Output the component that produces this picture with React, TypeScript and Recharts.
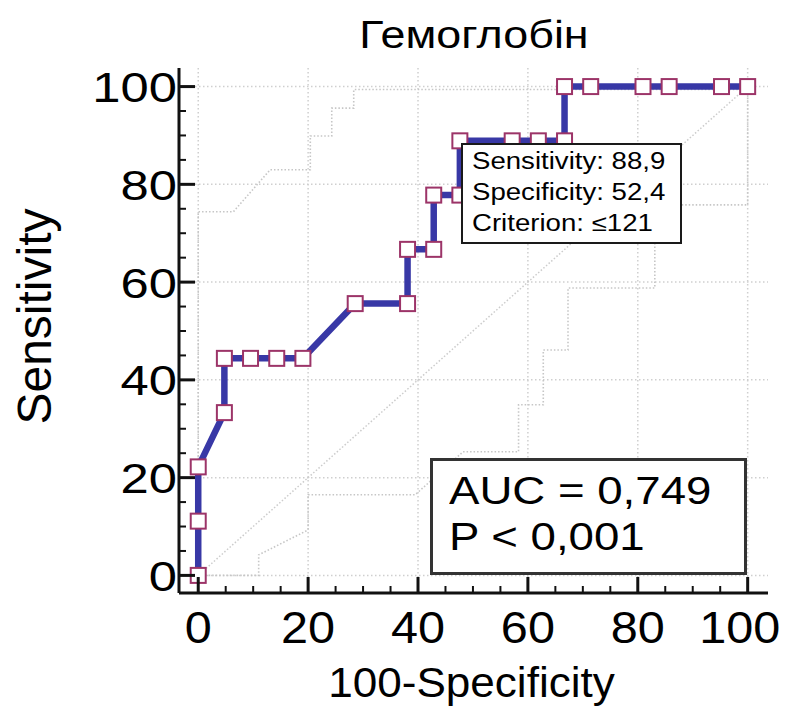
import React from "react";
import { CartesianGrid, ComposedChart, Line, ReferenceLine, XAxis, YAxis } from "recharts";

// ROC curve points: 100-Specificity (x) and Sensitivity (y)
const rocFpr = [0, 0, 0, 4.76, 4.76, 9.52, 14.29, 19.05, 28.57, 38.1, 38.1, 42.86, 42.86, 47.62, 47.62, 57.14, 61.9, 66.67, 66.67, 71.43, 80.95, 85.71, 95.24, 100];
const rocSens = [0, 11.1, 22.2, 33.3, 44.4, 44.4, 44.4, 44.4, 55.6, 55.6, 66.7, 66.7, 77.8, 77.8, 88.9, 88.9, 88.9, 88.9, 100, 100, 100, 100, 100, 100];

// 95% confidence bounds (dotted)
const upperX = [0, 0, 6.4, 13.1, 20.4, 20.4, 24.3, 24.3, 28.3, 28.3, 100];
const upperY = [0, 74.4, 74.4, 83, 83, 89.9, 89.9, 95.6, 95.6, 99.4, 99.4];
const lowerX = [0, 11, 11, 20, 20, 39.5, 48.2, 58.3, 58.3, 62.8, 62.8, 67.3, 67.3, 83.1, 83.1, 100, 100];
const lowerY = [0, 0, 4.2, 9.3, 16.5, 16.5, 25.3, 25.3, 34.9, 34.9, 46.1, 46.1, 58.8, 58.8, 75.8, 75.8, 99.4];

const axisTicks = [0, 5, 10, 15, 20, 25, 30, 35, 40, 45, 50, 55, 60, 65, 70, 75, 80, 85, 90, 95, 100];
const labelTicks = [0, 20, 40, 60, 80, 100];

const FONT = "'Liberation Sans', Arial, sans-serif";
const AXIS = "#111";
const GRID = "#cfcfcf";
const BAND = "#c6c6c6";
// the original text is set a little wider than Arial
const WIDE = 1.18;

const toPoints = (xs: number[], ys: number[]) => xs.map((x, i) => ({ x, y: ys[i] }));

const rocData = toPoints(rocFpr, rocSens);
const upperData = toPoints(upperX, upperY);
const lowerData = toPoints(lowerX, lowerY);

function WideText({ x, y, anchor, size, children, dy, scale = WIDE }: any) {
  return (
    <g transform={`translate(${x},${y}) scale(${scale},1)`}>
      <text x={0} y={0} dy={dy} textAnchor={anchor} fontFamily={FONT} fontSize={size} fill="#000">
        {children}
      </text>
    </g>
  );
}

function YTick(props: any) {
  const { x, y, payload } = props;
  const major = labelTicks.includes(payload.value);
  return (
    <g>
      <line x1={x} x2={x + (major ? 16 : 7)} y1={y} y2={y} stroke={AXIS} strokeWidth={major ? 3 : 2} />
      {major && (
        <WideText x={x - 2} y={y} dy="0.36em" anchor="end" size={43}>
          {payload.value}
        </WideText>
      )}
    </g>
  );
}

function XTick(props: any) {
  const { x, y, payload } = props;
  const major = labelTicks.includes(payload.value);
  // the last label is nudged left so it stays inside the picture
  const shift = payload.value === 100 ? -8 : 0;
  return (
    <g>
      <line x1={x} x2={x} y1={y} y2={y - (major ? 16 : 7)} stroke={AXIS} strokeWidth={major ? 3 : 2} />
      {major && (
        <WideText x={x + shift} y={y + 50} anchor="middle" size={45} scale={1.08}>
          {payload.value}
        </WideText>
      )}
    </g>
  );
}

function YTitle(props: any) {
  const { viewBox } = props;
  const cx = viewBox.x + 34;
  const cy = viewBox.y + viewBox.height / 2 - 14;
  return (
    <text x={cx} y={cy} transform={`rotate(-90 ${cx} ${cy})`} dy="0.36em" textAnchor="middle" fontFamily={FONT} fontSize={48} fill="#000">
      Sensitivity
    </text>
  );
}

function XTitle(props: any) {
  const { viewBox } = props;
  const cx = viewBox.x + viewBox.width / 2 - 2;
  return (
    <g transform={`translate(${cx},${viewBox.y + 104}) scale(1.05,1)`}>
      <text x={0} y={0} textAnchor="middle" fontFamily={FONT} fontSize={42} fill="#000">
        100-Specificity
      </text>
    </g>
  );
}

function SquareDot(props: any) {
  const { cx, cy, index } = props;
  if (cx == null || cy == null) return null;
  return <rect key={index} x={cx - 7.5} y={cy - 7.5} width={15} height={15} fill="#fff" stroke="#9c3468" strokeWidth={2} />;
}

const wideLine = (s: number) => ({ transform: `scaleX(${s})`, transformOrigin: "0 0" });

export default function App() {
  return (
    <div style={{ position: "absolute", left: 0, top: 0, width: 787, height: 707, background: "#fff" }}>
      <div
        style={{
          position: "absolute",
          left: 179,
          width: 589,
          top: 16,
          textAlign: "center",
          fontFamily: FONT,
          fontSize: 38,
          lineHeight: "38px",
          color: "#000",
          transform: `scaleX(${WIDE})`,
          transformOrigin: "292px 0",
        }}
      >
        Гемоглобін
      </div>
      <ComposedChart width={787} height={707} margin={{ top: 68, right: 19, bottom: 0, left: 0 }}>
        <CartesianGrid
          stroke={GRID}
          strokeDasharray="1.5 2.5"
          strokeWidth={1.5}
          horizontalValues={labelTicks}
          verticalValues={labelTicks}
        />
        <XAxis
          type="number"
          dataKey="x"
          domain={[-3.5, 103.7]}
          allowDataOverflow
          ticks={axisTicks}
          interval={0}
          height={114}
          tickSize={0}
          tickMargin={0}
          tickLine={false}
          tick={<XTick />}
          axisLine={{ stroke: AXIS, strokeWidth: 3 }}
          label={<XTitle />}
        />
        <YAxis
          type="number"
          dataKey="y"
          domain={[-3.6, 103.8]}
          allowDataOverflow
          ticks={axisTicks}
          interval={0}
          width={179}
          tickSize={0}
          tickMargin={0}
          tickLine={false}
          tick={<YTick />}
          axisLine={{ stroke: AXIS, strokeWidth: 3 }}
          label={<YTitle />}
        />
        <Line data={upperData} dataKey="y" type="linear" stroke={BAND} strokeWidth={1.6} strokeDasharray="1.5 2" dot={false} isAnimationActive={false} />
        <Line data={lowerData} dataKey="y" type="linear" stroke={BAND} strokeWidth={1.6} strokeDasharray="1.5 2" dot={false} isAnimationActive={false} />
        <ReferenceLine
          segment={[
            { x: 0, y: 0 },
            { x: 100, y: 100 },
          ]}
          stroke="#cccccc"
          strokeWidth={1.5}
          strokeDasharray="1.5 2"
        />
        <Line
          data={rocData}
          dataKey="y"
          type="linear"
          stroke="#3838a6"
          strokeWidth={6.5}
          dot={<SquareDot />}
          isAnimationActive={false}
        />
      </ComposedChart>
      <div
        style={{
          position: "absolute",
          left: 461,
          top: 143,
          width: 221,
          height: 101,
          border: "2px solid #1a1a1a",
          background: "#fff",
          fontFamily: FONT,
          fontSize: 23,
          lineHeight: "31px",
          paddingTop: 1,
          paddingLeft: 9,
          boxSizing: "border-box",
          color: "#000",
          whiteSpace: "nowrap",
        }}
      >
        <div style={wideLine(1.2)}>Sensitivity: 88,9</div>
        <div style={wideLine(1.2)}>Specificity: 52,4</div>
        <div style={wideLine(1.2)}>Criterion: ≤121</div>
      </div>
      <div
        style={{
          position: "absolute",
          left: 430,
          top: 458,
          width: 317,
          height: 117,
          border: "3px solid #333",
          background: "#fff",
          fontFamily: FONT,
          fontSize: 38,
          lineHeight: "46px",
          paddingTop: 7,
          paddingLeft: 16,
          boxSizing: "border-box",
          color: "#000",
          whiteSpace: "nowrap",
        }}
      >
        <div style={wideLine(1.2)}>AUC = 0,749</div>
        <div style={wideLine(1.2)}>P &lt; 0,001</div>
      </div>
    </div>
  );
}
